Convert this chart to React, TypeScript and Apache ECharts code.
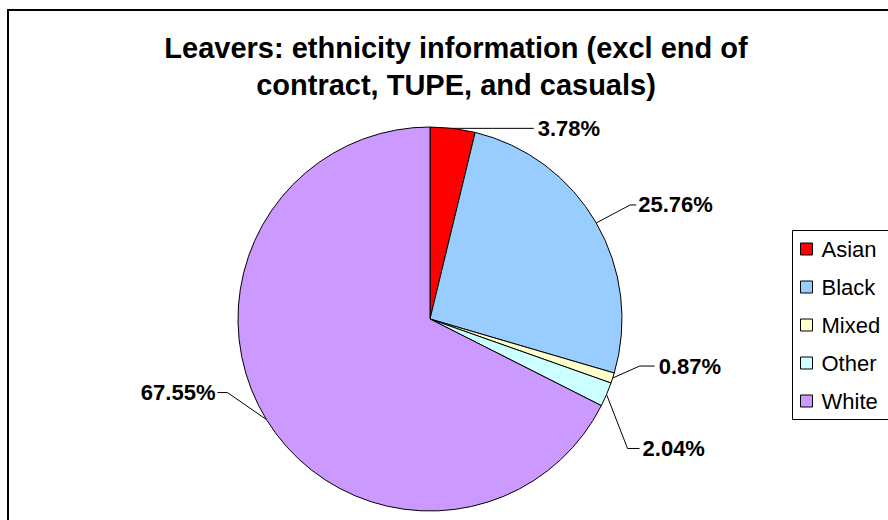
import React, { useEffect, useRef } from "react";
import * as echarts from "echarts";

const categories = ["Asian", "Black", "Mixed", "Other", "White"];
const values = [3.78, 25.76, 0.87, 2.04, 67.55];
const colors = ["#FF0000", "#99CCFF", "#FFFFCC", "#CCFFFF", "#CC99FF"];
const titleLines = ["Leavers: ethnicity information (excl end of", "contract, TUPE, and casuals)"];

// leader-line geometry, relative to the slice's edge point: [elbowDx, elbowDy, endDx, labelDx]
const leader = [
  [40, 0, 81, 85],
  [34, -18, 40, 42],
  [27, -12, 42, 46],
  [21, 54, 33, 36],
  [-39, -27, -49, -51],
];

const FONT = "'Liberation Sans', Arial, Helvetica, sans-serif";

export default function App() {
  const ref = useRef<HTMLDivElement>(null);
  useEffect(() => {
    if (!ref.current) return;
    const chart = echarts.init(ref.current, undefined, { renderer: "svg" });
    chart.setOption({
      animation: false,
      backgroundColor: "#ffffff",
      title: {
        text: titleLines.join("\n"),
        left: 456,
        textAlign: "center",
        top: 29,
        padding: 0,
        textStyle: {
          fontFamily: FONT,
          fontWeight: "bold",
          fontSize: 29,
          lineHeight: 37,
          color: "#000",
        },
      },
      legend: {
        orient: "vertical",
        left: 800,
        top: 230,
        padding: 0,
        itemGap: 0,
        itemWidth: 12,
        itemHeight: 12,
        icon: "rect",
        selectedMode: false,
        itemStyle: { borderColor: "#000", borderWidth: 1 },
        textStyle: {
          fontFamily: FONT,
          fontSize: 22,
          lineHeight: 38,
          color: "#000",
          padding: [0, 0, 0, 4],
        },
        data: categories,
      },
      graphic: [
        {
          type: "rect",
          shape: { x: 8, y: 10, width: 900, height: 540 },
          style: { fill: "none", stroke: "#000", lineWidth: 2 },
          silent: true,
        },
        {
          type: "rect",
          shape: { x: 792.5, y: 230.5, width: 120, height: 189 },
          style: { fill: "none", stroke: "#000", lineWidth: 1 },
          silent: true,
          z: 10,
        },
      ],
      series: [
        {
          type: "pie",
          center: [430, 319],
          radius: 192,
          startAngle: 90,
          clockwise: true,
          avoidLabelOverlap: false,
          data: categories.map((name, i) => ({
            name,
            value: values[i],
            itemStyle: { color: colors[i] },
          })),
          itemStyle: { borderColor: "#000", borderWidth: 1 },
          emphasis: { disabled: true },
          label: {
            show: true,
            position: "outside",
            formatter: (p: any) => Number(p.value).toFixed(2) + "%",
            fontFamily: FONT,
            fontWeight: "bold",
            fontSize: 22,
            color: "#000",
          },
          labelLine: {
            show: true,
            length: 10,
            length2: 10,
            lineStyle: { color: "#000", width: 1 },
          },
          labelLayout: (params: any) => {
            const pts = params.labelLinePoints;
            if (!pts || !pts[0]) return {};
            const [sx, sy] = pts[0];
            const [ex, ey, endx, lx] = leader[params.dataIndex];
            const right = lx > 0;
            return {
              x: sx + lx,
              y: sy + ey,
              align: right ? "left" : "right",
              verticalAlign: "middle",
              labelLinePoints: [
                [sx, sy],
                [sx + ex, sy + ey],
                [sx + endx, sy + ey],
              ],
            };
          },
        },
      ],
    });
    return () => chart.dispose();
  }, []);
  return <div ref={ref} style={{ width: 888, height: 520, position: "absolute", left: 0, top: 0 }} />;
}
